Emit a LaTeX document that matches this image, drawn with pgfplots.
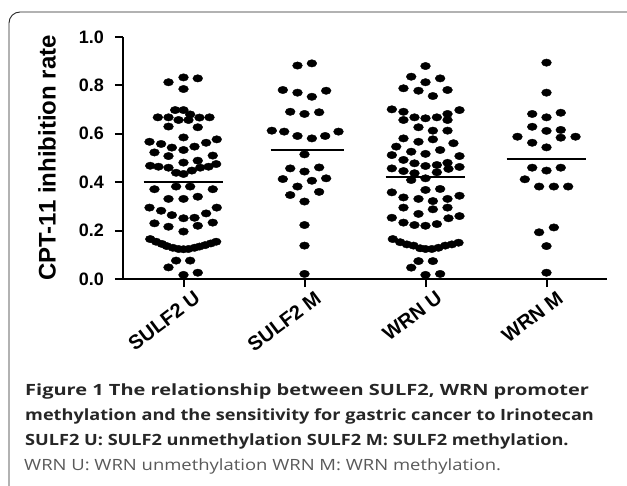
\documentclass[border=0pt]{standalone}
\usepackage{pgfplots}
\pgfplotsset{compat=1.18}
\usepackage{fontspec}
\usepackage{graphicx}
\setmainfont{Liberation Sans}
\newfontfamily\capfont{Open Sans}

\begin{document}
\begin{tikzpicture}[x=1pt,y=1pt]
\useasboundingbox (0,0) rectangle (627,485);
% caption box
\draw[line width=0.9pt, rounded corners=11pt, color=black!85] (9,-30) -- (9,473) -- (660,473) -- (660,-30);

\begin{axis}[
  at={(123pt,206pt)}, anchor=south west,
  scale only axis, width=484pt, height=242pt,
  xmin=0.5, xmax=4.5, ymin=0, ymax=1,
  axis x line=bottom, axis y line=left,
  axis line style={line width=2pt, -},
  clip=false,
  xtick={1,2,3,4},
  xticklabels={SULF2 U, SULF2 M, WRN U, WRN M},
  ytick={0,0.2,0.4,0.6,0.8,1.0},
  tick align=outside,
  major tick length=8pt,
  tick style={line width=2pt, black},
  /pgf/number format/assume math mode=true,
  /pgf/number format/.cd, fixed, fixed zerofill, precision=1, /pgfplots/.cd,
  yticklabel style={font=\fontsize{18}{18}\selectfont\bfseries, anchor=east, inner sep=0pt, xshift=-11pt},
  xticklabel style={font=\fontsize{20}{20}\selectfont\bfseries, rotate=37, anchor=north east, inner sep=0pt, yshift=-8pt, xshift=6pt},
  every axis y label/.style={at={(axis description cs:-0.157,0.5)}, rotate=90, anchor=center},
  ylabel={\fontsize{24}{24}\selectfont\bfseries CPT-11 inhibition rate},
  dots/.style={only marks, mark=*, mark size=3.7pt, mark options={xscale=1.33, draw=black, fill=black}},
  mean/.style={no marks, sharp plot, line width=2.2pt, black},
]

% SULF2 U
\addplot[dots] table {
x y
0.876 0.813
1.000 0.833
1.118 0.829
1.000 0.785
0.931 0.698
1.000 0.698
1.055 0.680
0.788 0.668
0.876 0.668
0.959 0.657
1.041 0.657
1.132 0.667
1.215 0.668
0.876 0.630
1.118 0.627
1.000 0.585
0.719 0.567
0.815 0.558
0.904 0.543
1.000 0.533
1.091 0.547
1.187 0.563
1.275 0.577
0.760 0.523
0.876 0.508
1.000 0.481
1.118 0.489
1.242 0.510
0.725 0.468
0.793 0.464
0.876 0.460
0.939 0.439
1.000 0.434
1.069 0.448
1.138 0.460
1.207 0.464
1.270 0.475
0.760 0.371
0.939 0.382
1.055 0.382
1.242 0.371
0.876 0.331
1.000 0.331
1.118 0.340
0.719 0.295
0.815 0.282
0.904 0.264
1.000 0.251
1.091 0.253
1.187 0.271
1.275 0.295
0.760 0.230
0.876 0.216
1.000 0.196
1.118 0.220
1.242 0.233
0.725 0.165
0.774 0.154
0.821 0.145
0.862 0.136
0.912 0.129
0.959 0.124
1.000 0.123
1.041 0.124
1.091 0.129
1.132 0.134
1.179 0.140
1.226 0.147
1.270 0.154
0.939 0.076
1.055 0.076
0.876 0.048
1.000 0.017
1.118 0.026
};

% SULF2 M
\addplot[dots] table {
x y
1.942 0.882
2.061 0.891
1.821 0.781
1.942 0.770
2.061 0.753
2.179 0.778
1.882 0.691
2.000 0.682
2.121 0.689
1.730 0.613
1.832 0.609
1.942 0.591
2.061 0.581
2.171 0.591
2.281 0.609
2.000 0.515
1.882 0.457
2.000 0.444
2.121 0.461
1.821 0.413
2.061 0.406
2.179 0.416
1.942 0.382
1.882 0.347
2.121 0.360
2.000 0.320
2.000 0.223
2.000 0.138
2.000 0.021
};

% WRN U
\addplot[dots] table {
x y
3.000 0.880
2.882 0.836
3.000 0.813
3.121 0.829
2.818 0.788
2.942 0.778
3.061 0.756
3.182 0.781
2.722 0.701
2.818 0.691
3.281 0.698
3.182 0.682
2.818 0.657
2.909 0.668
3.000 0.664
3.094 0.668
3.182 0.657
2.942 0.627
3.061 0.613
3.182 0.613
2.818 0.581
2.942 0.567
3.061 0.577
3.231 0.561
2.758 0.547
3.121 0.533
2.882 0.526
3.000 0.517
2.722 0.512
3.281 0.508
2.818 0.492
2.909 0.478
3.000 0.467
3.094 0.471
3.182 0.480
3.281 0.463
2.722 0.457
2.818 0.446
2.909 0.437
3.094 0.441
3.190 0.455
2.882 0.409
3.000 0.416
2.722 0.358
3.000 0.368
3.121 0.372
2.818 0.337
2.942 0.331
3.061 0.322
3.182 0.331
3.281 0.344
2.818 0.295
3.061 0.288
3.182 0.295
2.942 0.269
2.722 0.253
2.818 0.233
2.909 0.223
3.000 0.220
3.094 0.227
3.190 0.251
3.281 0.260
2.730 0.165
2.791 0.152
2.846 0.143
2.901 0.138
2.956 0.127
3.000 0.124
3.052 0.124
3.107 0.129
3.163 0.138
3.218 0.143
3.273 0.150
2.942 0.074
3.061 0.074
2.882 0.047
3.000 0.017
3.121 0.021
};

% WRN M
\addplot[dots] table {
x y
4.000 0.894
4.000 0.770
3.882 0.682
4.000 0.668
4.118 0.687
3.882 0.629
4.000 0.612
4.118 0.616
4.118 0.584
3.760 0.588
4.240 0.588
3.882 0.563
4.000 0.544
3.882 0.460
4.000 0.448
4.118 0.460
3.821 0.412
3.939 0.382
4.061 0.382
4.179 0.382
3.939 0.193
4.061 0.213
4.000 0.136
4.000 0.026
};

% mean lines
\addplot[mean] coordinates {(0.67,0.400) (1.33,0.400)};
\addplot[mean] coordinates {(1.72,0.532) (2.33,0.532)};
\addplot[mean] coordinates {(2.67,0.423) (3.33,0.423)};
\addplot[mean] coordinates {(3.67,0.497) (4.33,0.497)};
\end{axis}

% caption
\begin{scope}[every node/.style={anchor=base west, inner sep=0pt}]
\node at (25,89) {\capfont\fontsize{15.5}{18}\selectfont\color{black!85}\scalebox{1.29}[1]{\textbf{Figure 1 The relationship between SULF2, WRN promoter}}};
\node at (25,64) {\capfont\fontsize{15.5}{18}\selectfont\color{black!85}\scalebox{1.17}[1]{\textbf{methylation and the sensitivity for gastric cancer to Irinotecan}}};
\node at (25,39) {\capfont\fontsize{15.5}{18}\selectfont\color{black!85}\scalebox{1.17}[1]{\textbf{SULF2 U: SULF2 unmethylation SULF2 M: SULF2 methylation.}}};
\node at (24,14) {\capfont\fontsize{15.5}{18}\selectfont\color{black!65}\scalebox{1.19}[1]{WRN U: WRN unmethylation WRN M: WRN methylation.}};
\end{scope}
\end{tikzpicture}
\end{document}
